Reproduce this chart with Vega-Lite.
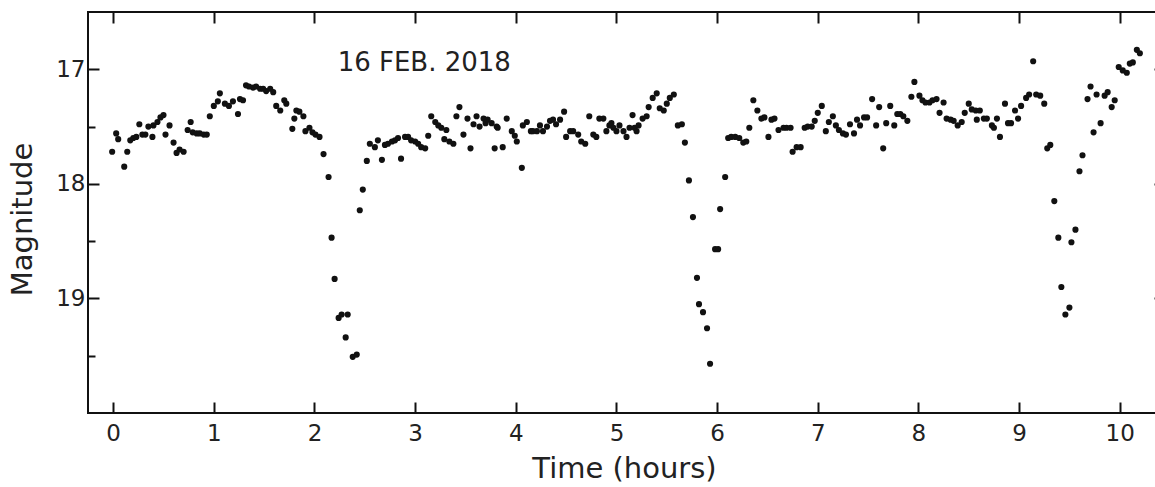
{
  "$schema": "https://vega.github.io/schema/vega-lite/v6.json",
  "autosize": {"type": "none"},
  "padding": {"left": 88, "top": 12, "right": -5, "bottom": 74},
  "width": 1072,
  "height": 401,
  "background": "white",
  "config": {
    "view": {"stroke": "#111", "strokeWidth": 2},
    "font": "DejaVu Sans",
    "axis": {
      "grid": false,
      "domain": false,
      "tickColor": "#111",
      "tickWidth": 2,
      "labelColor": "#222",
      "titleColor": "#222",
      "labelFont": "DejaVu Sans",
      "titleFont": "DejaVu Sans",
      "titleFontWeight": "normal",
      "labelFontSize": 23,
      "titleFontSize": 29
    }
  },
  "datasets": {
    "pts": [
      {"t": -0.01, "m": 17.72}, {"t": 0.03, "m": 17.56}, {"t": 0.05, "m": 17.61}, {"t": 0.11, "m": 17.85},
      {"t": 0.14, "m": 17.72}, {"t": 0.17, "m": 17.62}, {"t": 0.20, "m": 17.60}, {"t": 0.23, "m": 17.59},
      {"t": 0.26, "m": 17.48}, {"t": 0.29, "m": 17.57}, {"t": 0.32, "m": 17.57}, {"t": 0.35, "m": 17.50},
      {"t": 0.39, "m": 17.59}, {"t": 0.40, "m": 17.49}, {"t": 0.44, "m": 17.46}, {"t": 0.47, "m": 17.42},
      {"t": 0.50, "m": 17.40}, {"t": 0.52, "m": 17.57}, {"t": 0.56, "m": 17.49}, {"t": 0.60, "m": 17.64},
      {"t": 0.63, "m": 17.73}, {"t": 0.66, "m": 17.70}, {"t": 0.70, "m": 17.72}, {"t": 0.74, "m": 17.53},
      {"t": 0.77, "m": 17.46}, {"t": 0.79, "m": 17.55}, {"t": 0.83, "m": 17.56}, {"t": 0.86, "m": 17.56},
      {"t": 0.90, "m": 17.57}, {"t": 0.93, "m": 17.57}, {"t": 0.96, "m": 17.41}, {"t": 1.00, "m": 17.32},
      {"t": 1.04, "m": 17.28}, {"t": 1.06, "m": 17.21}, {"t": 1.11, "m": 17.30}, {"t": 1.15, "m": 17.32},
      {"t": 1.19, "m": 17.28}, {"t": 1.24, "m": 17.39}, {"t": 1.26, "m": 17.26}, {"t": 1.29, "m": 17.27},
      {"t": 1.32, "m": 17.14}, {"t": 1.35, "m": 17.15}, {"t": 1.39, "m": 17.16}, {"t": 1.42, "m": 17.15},
      {"t": 1.46, "m": 17.17}, {"t": 1.49, "m": 17.17}, {"t": 1.52, "m": 17.19}, {"t": 1.56, "m": 17.17},
      {"t": 1.59, "m": 17.20}, {"t": 1.62, "m": 17.32}, {"t": 1.66, "m": 17.36}, {"t": 1.70, "m": 17.27},
      {"t": 1.72, "m": 17.30}, {"t": 1.78, "m": 17.52}, {"t": 1.80, "m": 17.43}, {"t": 1.82, "m": 17.36},
      {"t": 1.85, "m": 17.37}, {"t": 1.89, "m": 17.41}, {"t": 1.91, "m": 17.54}, {"t": 1.95, "m": 17.51},
      {"t": 1.98, "m": 17.55}, {"t": 2.01, "m": 17.57}, {"t": 2.05, "m": 17.59}, {"t": 2.09, "m": 17.74},
      {"t": 2.14, "m": 17.94}, {"t": 2.17, "m": 18.47}, {"t": 2.20, "m": 18.83}, {"t": 2.24, "m": 19.17},
      {"t": 2.27, "m": 19.14}, {"t": 2.31, "m": 19.34}, {"t": 2.33, "m": 19.14}, {"t": 2.38, "m": 19.51},
      {"t": 2.42, "m": 19.49}, {"t": 2.45, "m": 18.23}, {"t": 2.48, "m": 18.05}, {"t": 2.52, "m": 17.80},
      {"t": 2.55, "m": 17.65}, {"t": 2.60, "m": 17.68}, {"t": 2.63, "m": 17.62}, {"t": 2.67, "m": 17.79},
      {"t": 2.70, "m": 17.66}, {"t": 2.73, "m": 17.65}, {"t": 2.77, "m": 17.63}, {"t": 2.80, "m": 17.62},
      {"t": 2.83, "m": 17.60}, {"t": 2.86, "m": 17.78}, {"t": 2.90, "m": 17.59}, {"t": 2.93, "m": 17.59},
      {"t": 2.96, "m": 17.62}, {"t": 3.00, "m": 17.63}, {"t": 3.03, "m": 17.65}, {"t": 3.06, "m": 17.68},
      {"t": 3.10, "m": 17.69}, {"t": 3.13, "m": 17.58}, {"t": 3.16, "m": 17.41}, {"t": 3.20, "m": 17.46},
      {"t": 3.23, "m": 17.49}, {"t": 3.26, "m": 17.51}, {"t": 3.29, "m": 17.61}, {"t": 3.31, "m": 17.53},
      {"t": 3.34, "m": 17.63}, {"t": 3.38, "m": 17.65}, {"t": 3.41, "m": 17.41}, {"t": 3.44, "m": 17.33},
      {"t": 3.48, "m": 17.57}, {"t": 3.52, "m": 17.43}, {"t": 3.55, "m": 17.69}, {"t": 3.58, "m": 17.48},
      {"t": 3.61, "m": 17.41}, {"t": 3.64, "m": 17.50}, {"t": 3.68, "m": 17.43}, {"t": 3.70, "m": 17.47},
      {"t": 3.72, "m": 17.44}, {"t": 3.76, "m": 17.47}, {"t": 3.79, "m": 17.69}, {"t": 3.81, "m": 17.50},
      {"t": 3.82, "m": 17.51}, {"t": 3.87, "m": 17.68}, {"t": 3.91, "m": 17.43}, {"t": 3.96, "m": 17.54},
      {"t": 3.99, "m": 17.58}, {"t": 4.01, "m": 17.63}, {"t": 4.06, "m": 17.86}, {"t": 4.07, "m": 17.49},
      {"t": 4.11, "m": 17.46}, {"t": 4.15, "m": 17.54}, {"t": 4.17, "m": 17.54}, {"t": 4.21, "m": 17.54},
      {"t": 4.24, "m": 17.49}, {"t": 4.27, "m": 17.54}, {"t": 4.31, "m": 17.50}, {"t": 4.34, "m": 17.45},
      {"t": 4.37, "m": 17.44}, {"t": 4.40, "m": 17.48}, {"t": 4.44, "m": 17.44}, {"t": 4.48, "m": 17.37},
      {"t": 4.50, "m": 17.59}, {"t": 4.54, "m": 17.54}, {"t": 4.57, "m": 17.54}, {"t": 4.62, "m": 17.57},
      {"t": 4.65, "m": 17.63}, {"t": 4.69, "m": 17.65}, {"t": 4.73, "m": 17.41}, {"t": 4.77, "m": 17.57},
      {"t": 4.80, "m": 17.59}, {"t": 4.83, "m": 17.43}, {"t": 4.87, "m": 17.43}, {"t": 4.90, "m": 17.54},
      {"t": 4.93, "m": 17.49}, {"t": 4.95, "m": 17.47}, {"t": 4.97, "m": 17.51}, {"t": 5.00, "m": 17.54},
      {"t": 5.03, "m": 17.49}, {"t": 5.07, "m": 17.54}, {"t": 5.10, "m": 17.59}, {"t": 5.13, "m": 17.51},
      {"t": 5.16, "m": 17.40}, {"t": 5.18, "m": 17.51}, {"t": 5.20, "m": 17.54}, {"t": 5.22, "m": 17.49},
      {"t": 5.26, "m": 17.43}, {"t": 5.30, "m": 17.41}, {"t": 5.32, "m": 17.33}, {"t": 5.36, "m": 17.25},
      {"t": 5.40, "m": 17.21}, {"t": 5.43, "m": 17.34}, {"t": 5.47, "m": 17.36}, {"t": 5.50, "m": 17.30},
      {"t": 5.53, "m": 17.25}, {"t": 5.57, "m": 17.22}, {"t": 5.61, "m": 17.49}, {"t": 5.65, "m": 17.48},
      {"t": 5.68, "m": 17.64}, {"t": 5.72, "m": 17.97}, {"t": 5.76, "m": 18.29}, {"t": 5.80, "m": 18.82},
      {"t": 5.82, "m": 19.05}, {"t": 5.86, "m": 19.12}, {"t": 5.90, "m": 19.26}, {"t": 5.93, "m": 19.57},
      {"t": 5.98, "m": 18.57}, {"t": 6.01, "m": 18.57}, {"t": 6.03, "m": 18.22}, {"t": 6.08, "m": 17.94},
      {"t": 6.11, "m": 17.60}, {"t": 6.14, "m": 17.59}, {"t": 6.18, "m": 17.59}, {"t": 6.22, "m": 17.60},
      {"t": 6.26, "m": 17.64}, {"t": 6.29, "m": 17.63}, {"t": 6.32, "m": 17.51}, {"t": 6.36, "m": 17.27},
      {"t": 6.40, "m": 17.36}, {"t": 6.44, "m": 17.43}, {"t": 6.47, "m": 17.42}, {"t": 6.51, "m": 17.59},
      {"t": 6.54, "m": 17.44}, {"t": 6.57, "m": 17.43}, {"t": 6.61, "m": 17.53}, {"t": 6.66, "m": 17.51},
      {"t": 6.69, "m": 17.51}, {"t": 6.73, "m": 17.51}, {"t": 6.75, "m": 17.72}, {"t": 6.79, "m": 17.68},
      {"t": 6.83, "m": 17.68}, {"t": 6.87, "m": 17.51}, {"t": 6.90, "m": 17.50}, {"t": 6.94, "m": 17.50},
      {"t": 6.97, "m": 17.45}, {"t": 7.00, "m": 17.38}, {"t": 7.04, "m": 17.32}, {"t": 7.08, "m": 17.54},
      {"t": 7.11, "m": 17.46}, {"t": 7.15, "m": 17.41}, {"t": 7.18, "m": 17.49}, {"t": 7.21, "m": 17.53},
      {"t": 7.25, "m": 17.56}, {"t": 7.28, "m": 17.57}, {"t": 7.32, "m": 17.48}, {"t": 7.36, "m": 17.56},
      {"t": 7.39, "m": 17.44}, {"t": 7.42, "m": 17.49}, {"t": 7.46, "m": 17.42}, {"t": 7.49, "m": 17.42},
      {"t": 7.54, "m": 17.26}, {"t": 7.58, "m": 17.49}, {"t": 7.61, "m": 17.33}, {"t": 7.65, "m": 17.69},
      {"t": 7.68, "m": 17.47}, {"t": 7.72, "m": 17.32}, {"t": 7.76, "m": 17.49}, {"t": 7.79, "m": 17.39},
      {"t": 7.82, "m": 17.39}, {"t": 7.85, "m": 17.41}, {"t": 7.89, "m": 17.45}, {"t": 7.93, "m": 17.24},
      {"t": 7.96, "m": 17.11}, {"t": 8.01, "m": 17.23}, {"t": 8.04, "m": 17.27}, {"t": 8.07, "m": 17.29},
      {"t": 8.11, "m": 17.29}, {"t": 8.14, "m": 17.27}, {"t": 8.18, "m": 17.26}, {"t": 8.21, "m": 17.38},
      {"t": 8.25, "m": 17.29}, {"t": 8.28, "m": 17.43}, {"t": 8.32, "m": 17.44}, {"t": 8.35, "m": 17.45},
      {"t": 8.39, "m": 17.49}, {"t": 8.43, "m": 17.46}, {"t": 8.46, "m": 17.38}, {"t": 8.50, "m": 17.30},
      {"t": 8.53, "m": 17.35}, {"t": 8.57, "m": 17.36}, {"t": 8.58, "m": 17.44}, {"t": 8.61, "m": 17.36},
      {"t": 8.65, "m": 17.43}, {"t": 8.68, "m": 17.43}, {"t": 8.73, "m": 17.49}, {"t": 8.75, "m": 17.51},
      {"t": 8.78, "m": 17.43}, {"t": 8.81, "m": 17.59}, {"t": 8.86, "m": 17.30}, {"t": 8.89, "m": 17.47},
      {"t": 8.92, "m": 17.47}, {"t": 8.96, "m": 17.36}, {"t": 8.99, "m": 17.43}, {"t": 9.02, "m": 17.32},
      {"t": 9.07, "m": 17.25}, {"t": 9.10, "m": 17.22}, {"t": 9.14, "m": 16.93}, {"t": 9.17, "m": 17.22},
      {"t": 9.21, "m": 17.23}, {"t": 9.25, "m": 17.30}, {"t": 9.28, "m": 17.69}, {"t": 9.31, "m": 17.66},
      {"t": 9.35, "m": 18.15}, {"t": 9.39, "m": 18.47}, {"t": 9.42, "m": 18.90}, {"t": 9.46, "m": 19.14},
      {"t": 9.50, "m": 19.08}, {"t": 9.52, "m": 18.51}, {"t": 9.56, "m": 18.40}, {"t": 9.60, "m": 17.89},
      {"t": 9.63, "m": 17.75}, {"t": 9.68, "m": 17.26}, {"t": 9.71, "m": 17.15}, {"t": 9.74, "m": 17.55},
      {"t": 9.77, "m": 17.22}, {"t": 9.81, "m": 17.47}, {"t": 9.85, "m": 17.23}, {"t": 9.88, "m": 17.20},
      {"t": 9.92, "m": 17.33}, {"t": 9.95, "m": 17.27}, {"t": 9.99, "m": 16.98}, {"t": 10.03, "m": 17.01},
      {"t": 10.07, "m": 17.03}, {"t": 10.10, "m": 16.95}, {"t": 10.13, "m": 16.94}, {"t": 10.17, "m": 16.83},
      {"t": 10.20, "m": 16.86}
    ],
    "lbl": [{"t": 2.23, "m": 17.015, "text": "16 FEB. 2018"}]
  },
  "resolve": {"axis": {"x": "independent", "y": "independent"}},
  "layer": [
    {
      "data": {"name": "pts"},
      "mark": {"type": "circle", "size": 38, "color": "#111", "opacity": 1},
      "encoding": {
        "x": {
          "field": "t", "type": "quantitative",
          "scale": {"domain": [-0.25, 10.4], "nice": false, "zero": false},
          "axis": {
            "orient": "bottom", "values": [0,1,2,3,4,5,6,7,8,9,10],
            "tickSize": -11, "labelPadding": 20, "title": "Time (hours)", "titlePadding": 9
          }
        },
        "y": {
          "field": "m", "type": "quantitative",
          "scale": {"domain": [16.5, 20], "reverse": true, "nice": false, "zero": false},
          "axis": {
            "orient": "left", "values": [17, 17.5, 18, 18.5, 19, 19.5],
            "labelExpr": "datum.value % 1 === 0 ? format(datum.value, 'd') : ''",
            "tickSize": {"condition": {"test": "datum.value % 1 !== 0", "value": -7}, "value": -11},
            "labelPadding": 14, "title": "Magnitude", "titlePadding": 18, "titleY": 207
          }
        }
      }
    },
    {
      "data": {"name": "lbl"},
      "mark": {"type": "text", "align": "left", "baseline": "alphabetic", "fontSize": 26, "font": "DejaVu Sans", "color": "#222"},
      "encoding": {
        "x": {
          "field": "t", "type": "quantitative",
          "axis": {"orient": "top", "values": [0,1,2,3,4,5,6,7,8,9,10], "labels": false, "tickSize": -11, "title": null}
        },
        "y": {
          "field": "m", "type": "quantitative",
          "axis": {
            "orient": "right", "values": [17, 17.5, 18, 18.5, 19, 19.5], "labels": false,
            "tickSize": {"condition": {"test": "datum.value % 1 !== 0", "value": -7}, "value": -11},
            "offset": 5, "title": null
          }
        },
        "text": {"field": "text"}
      }
    }
  ]
}
